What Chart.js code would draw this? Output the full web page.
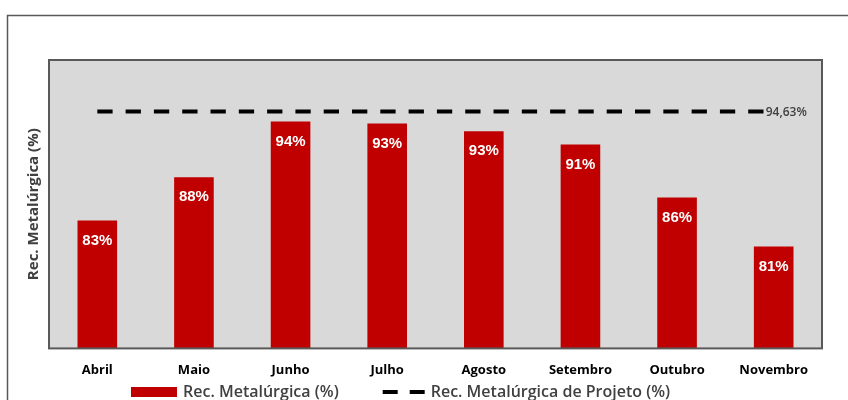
<!DOCTYPE html>
<html>
<head>
<meta charset="utf-8">
<script src="https://cdn.jsdelivr.net/npm/chart.js@4.4.1/dist/chart.umd.min.js"></script>
<style>
  html, body { margin: 0; padding: 0; background: #fff; overflow: hidden; }
  #wrap { position: relative; width: 848px; height: 400px; }
</style>
</head>
<body>
<div id="wrap"><canvas id="c" width="848" height="400"></canvas></div>
<script>
// Monthly metallurgical recovery vs. design recovery
const months = ['Abril', 'Maio', 'Junho', 'Julho', 'Agosto', 'Setembro', 'Outubro', 'Novembro'];
const recovery = [83.3, 87.8, 93.6, 93.4, 92.6, 91.2, 85.7, 80.6];
const designRecovery = [94.63, 94.63, 94.63, 94.63, 94.63, 94.63, 94.63, 94.63];
const designLabel = '94,63%';
const seriesNames = ['Rec. Metalúrgica (%)', 'Rec. Metalúrgica de Projeto (%)'];
const axisTitle = 'Rec. Metalúrgica (%)';
const yRange = [70, 100];

const BAR_RED = '#C00000';
const TEXT_DARK = '#404040';

// Outer frame, plot background and plot border
const framePlugin = {
  id: 'frame',
  beforeDraw(chart) {
    const ctx = chart.ctx;
    const a = chart.chartArea;
    ctx.save();
    ctx.fillStyle = '#fff';
    ctx.fillRect(0, 0, chart.width, chart.height);
    ctx.strokeStyle = '#595959';
    ctx.lineWidth = 1.5;
    ctx.beginPath();
    ctx.moveTo(7.5, chart.height);
    ctx.lineTo(7.5, 15.5);
    ctx.lineTo(chart.width, 15.5);
    ctx.stroke();
    ctx.fillStyle = '#D9D9D9';
    ctx.fillRect(a.left, a.top, a.right - a.left, a.bottom - a.top);
    ctx.restore();
  },
  afterDatasetsDraw(chart) {
    const ctx = chart.ctx;
    const a = chart.chartArea;
    ctx.save();
    ctx.strokeStyle = '#595959';
    ctx.lineWidth = 2;
    ctx.strokeRect(a.left, a.top, a.right - a.left, a.bottom - a.top);
    ctx.restore();
  }
};

// Value labels inside the bars, design value label, axis title and legend
const labelsPlugin = {
  id: 'labels',
  afterDraw(chart) {
    const ctx = chart.ctx;
    const a = chart.chartArea;
    ctx.save();

    // bar values
    const barMeta = chart.getDatasetMeta(0);
    ctx.fillStyle = '#fff';
    ctx.font = 'bold 15px "Liberation Sans", Arial, sans-serif';
    ctx.textAlign = 'center';
    ctx.textBaseline = 'middle';
    barMeta.data.forEach((bar, i) => {
      ctx.fillText(Math.round(recovery[i]) + '%', bar.x, bar.y + 20);
    });

    // design value at the end of the dashed line
    const lineMeta = chart.getDatasetMeta(1);
    const last = lineMeta.data[lineMeta.data.length - 1];
    ctx.fillStyle = TEXT_DARK;
    ctx.font = '600 12px "Open Sans", sans-serif';
    ctx.textAlign = 'left';
    ctx.fillText(designLabel, last.x - 8, last.y + 0.5);

    // y axis title
    ctx.save();
    ctx.translate(a.left - 15, (a.top + a.bottom) / 2);
    ctx.rotate(-Math.PI / 2);
    ctx.font = 'bold 15px "Open Sans", sans-serif';
    ctx.textAlign = 'center';
    ctx.fillStyle = TEXT_DARK;
    ctx.fillText(axisTitle, 0, 0);
    ctx.restore();

    // legend
    const ly = 392;
    ctx.font = '600 16px "Open Sans", sans-serif';
    ctx.textAlign = 'left';
    ctx.textBaseline = 'middle';
    let x = 131;
    ctx.fillStyle = BAR_RED;
    ctx.fillRect(x, ly - 5, 46, 10);
    x += 52;
    ctx.fillStyle = TEXT_DARK;
    ctx.fillText(seriesNames[0], x, ly);
    x += ctx.measureText(seriesNames[0]).width + 44;
    ctx.strokeStyle = '#000';
    ctx.lineWidth = 4;
    ctx.setLineDash([15, 12]);
    ctx.beginPath();
    ctx.moveTo(x, ly);
    ctx.lineTo(x + 44, ly);
    ctx.stroke();
    ctx.setLineDash([]);
    x += 48;
    ctx.fillText(seriesNames[1], x, ly);

    ctx.restore();
  }
};

new Chart(document.getElementById('c'), {
  type: 'bar',
  data: {
    labels: months,
    datasets: [
      {
        type: 'bar',
        label: seriesNames[0],
        data: recovery,
        backgroundColor: BAR_RED,
        borderWidth: 0,
        barPercentage: 0.41,
        categoryPercentage: 1.0,
        order: 1
      },
      {
        type: 'line',
        label: seriesNames[1],
        data: designRecovery,
        borderColor: '#000',
        borderWidth: 4,
        borderDash: [15.3, 13],
        borderCapStyle: 'butt',
        pointRadius: 0,
        fill: false,
        order: 0
      }
    ]
  },
  options: {
    responsive: false,
    animation: false,
    devicePixelRatio: 1,
    layout: { padding: { left: 49, right: 26, top: 60, bottom: 8 } },
    plugins: {
      legend: { display: false },
      tooltip: { enabled: false }
    },
    scales: {
      x: {
        type: 'category',
        offset: true,
        grid: { display: false, drawTicks: false },
        border: { display: false },
        ticks: {
          color: '#000',
          font: { family: '"Open Sans", sans-serif', size: 13, weight: 'bold' },
          padding: 14,
          maxRotation: 0,
          autoSkip: false
        }
      },
      y: {
        display: false,
        min: yRange[0],
        max: yRange[1]
      }
    }
  },
  plugins: [framePlugin, labelsPlugin]
});
</script>
</body>
</html>
